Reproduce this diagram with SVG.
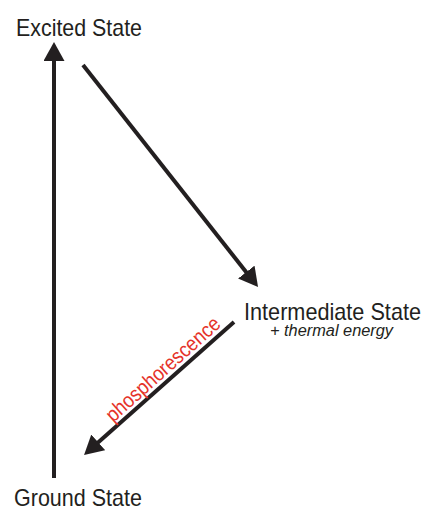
<svg xmlns="http://www.w3.org/2000/svg" width="425" height="511" viewBox="0 0 425 511">
<style>
.lbl{font-family:"Liberation Sans",Arial,sans-serif;font-size:24px;fill:#231f20}
.sub{font-family:"Liberation Sans",Arial,sans-serif;font-size:16px;font-style:italic;fill:#231f20}
.red{font-family:"Liberation Sans",Arial,sans-serif;font-size:21px;fill:#e5332a}
.arr{stroke:#231f20;stroke-width:4;fill:none;marker-end:url(#head)}
</style>
<defs>
<marker id="head" viewBox="0 0 19 21" refX="1" refY="10.5" markerWidth="19" markerHeight="21" markerUnits="userSpaceOnUse" orient="auto">
<path d="M0,0 L19,10.5 L0,21 z" fill="#231f20"/>
</marker>
</defs>
<rect width="425" height="511" fill="#ffffff"/>
<g id="connectors">
<line class="arr" x1="54" y1="478" x2="54" y2="60"/>
<line class="arr" x1="83" y1="65" x2="246.9" y2="272.9"/>
<line class="arr" x1="234" y1="322" x2="97.5" y2="443.1"/>
<text class="red" transform="translate(167.6,374.3) rotate(-41.8)" text-anchor="middle" textLength="146" lengthAdjust="spacingAndGlyphs">phosphorescence</text>
</g>
<g id="excited">
<text class="lbl" x="16" y="36" textLength="126" lengthAdjust="spacingAndGlyphs">Excited State</text>
</g>
<g id="intermediate">
<text class="lbl" x="244" y="320" textLength="177" lengthAdjust="spacingAndGlyphs">Intermediate State</text>
<text class="sub" x="270" y="336" textLength="123" lengthAdjust="spacingAndGlyphs">+ thermal energy</text>
</g>
<g id="ground">
<text class="lbl" x="14" y="506" textLength="128" lengthAdjust="spacingAndGlyphs">Ground State</text>
</g>
</svg>
